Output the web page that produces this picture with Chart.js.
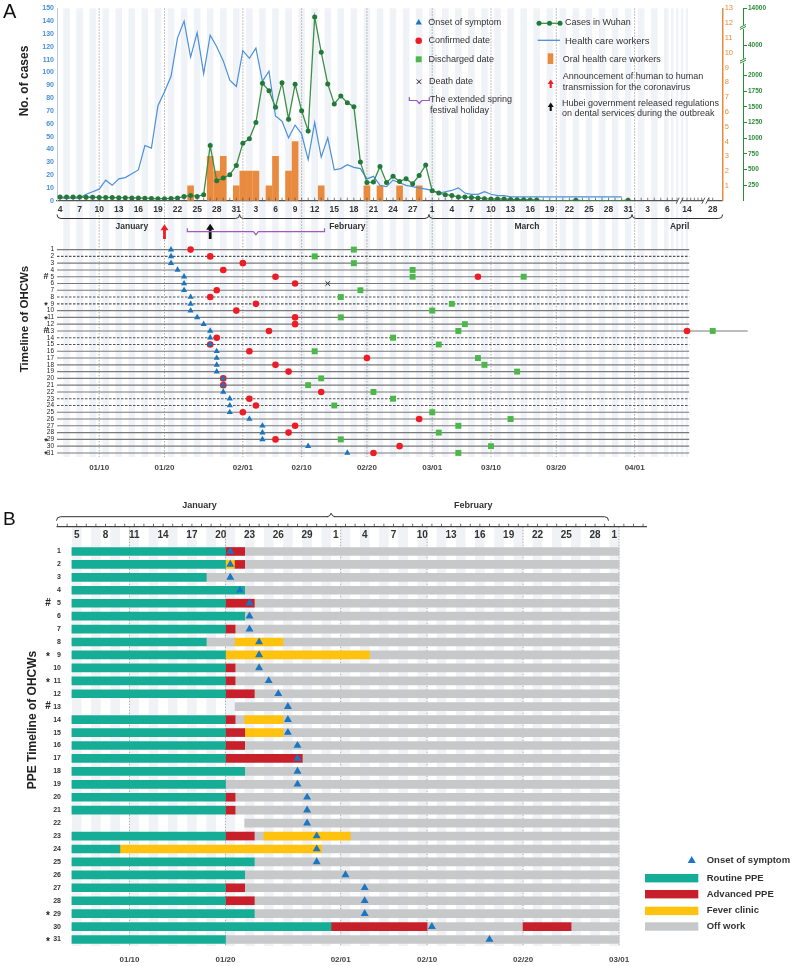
<!DOCTYPE html>
<html>
<head>
<meta charset="utf-8">
<title>Oral health care workers timeline</title>
<script src="https://cdn.jsdelivr.net/npm/chart.js@4.4.1/dist/chart.umd.min.js"></script>
<style>
  body { margin: 0; background: #fff; }
  #page { position: relative; width: 791px; height: 966px; overflow: hidden; }
  #page canvas { position: absolute; left: 0; }
</style>
</head>
<body>
<div id="page">
  <canvas id="casesChart" width="791" height="240" style="top:0"></canvas>
  <canvas id="timelineChart" width="791" height="240" style="top:240px"></canvas>
  <canvas id="ppeChart" width="791" height="486" style="top:480px"></canvas>
</div>
<script>
// ---------- data ----------
// daily series start on 4 January 2020 and run to 31 March
const firstDay = '1/4';
const healthWorkers = [
  2, 2, 2, 2, 5, 7, 9, 16, 12, 17, 18, 21, 24, 43, 41, 74, 85, 97, 127, 140, 112, 131, 99, 129, 120, 109, 94, 89,
  117, 111, 119, 93, 101, 66, 62, 49, 59, 52, 32, 61, 34, 49, 24, 25, 28, 26, 25, 17, 19, 12, 11, 16, 14, 12, 11, 10, 9,
  8, 6, 7, 8, 10, 6, 5, 5, 7, 5, 4, 4, 3, 3, 3, 3, 3, 3, 3, 3, 3, 3, 3, 3, 3, 3, 3, 3, 3, 3
];
const wuhanCases = [
  58, 58, 58, 58, 55, 55, 53, 53, 50, 48, 48, 45, 43, 40, 35, 32, 32, 37, 43, 69, 85, 69, 96, 882, 319, 362, 415, 563,
  920, 989, 1249, 1877, 1760, 1494, 1887, 1303, 1861, 1440, 1116, 11700, 3560, 1867, 1547, 1675, 1568, 1504, 617, 292, 298, 547, 292, 390, 308, 351, 271, 404, 569,
  160, 122, 96, 85, 58, 58, 53, 43, 32, 27, 27, 27, 21, 16, 16, 11, 11, 0, 0, 0, 0, 0, 8, 0, 0, 0, 0, 0, 0, 0, 8
];
const oralDates = ['1/24', '1/27', '1/28', '1/29', '1/31', '2/1', '2/2', '2/3', '2/5', '2/6', '2/8', '2/9', '2/13', '2/20', '2/22', '2/25', '2/28'];
const oralCounts = [1, 3, 2, 3, 1, 2, 2, 2, 1, 3, 2, 4, 1, 1, 1, 1, 1];
const wuhanTicks = [250, 500, 750, 1000, 1250, 1500, 1750, 2000, 4000, 14000];

// events marked under the date axis
const h2hDate = '1/20';
const dentalRuleDate = '1/27';
const holidayFrom = '1/24';
const holidayTo = '2/13';

// timeline of the 31 OHCWs (row = worker)
const onset = ['1/21', '1/21', '1/21', '1/22', '1/23', '1/23', '1/23', '1/24', '1/24', '1/24', '1/25', '1/26', '1/27', '1/27', '1/27', '1/28',
  '1/28', '1/28', '1/28', '1/29', '1/29', '1/29', '1/30', '1/30', '1/30', '2/2', '2/4', '2/4', '2/4', '2/11', '2/17'];
const confirmed = ['1/24', '1/27', '2/1', '1/29', '2/6', '2/9', '1/28', '1/27', '2/3', '1/31', '2/9', '2/9', '2/5', '1/28', '1/27', '2/2',
  '2/20', '2/6', '2/8', '1/29', '1/29', '2/13', '2/2', '2/3', '2/1', '2/28', '2/9', '2/8', '2/6', '2/25', '2/21'];
const discharged = ['2/18', '2/12', '2/18', '2/27', '2/27', null, '2/19', '2/16', '3/4', '3/1', '2/16', '3/6', '3/5', '2/24', '3/2', '2/12',
  '3/8', '3/9', '3/14', '2/13', '2/11', '2/21', '2/24', '2/15', '3/1', '3/13', '3/5', '3/2', '2/16', '3/10', '3/5'];
const reconfirmedRows = [5, 13];
const reconfirmedDates = ['3/8', '4/14'];
const redischargedRows = [5, 13];
const redischargedDates = ['3/15', '4/28'];
const deathRows = [6];
const deathDates = ['2/14'];
const dashedRows = [2, 8, 9, 14, 15, 23, 24];
const noteRows = [5, 9, 11, 13, 29, 31];
const noteMarks = ['#', '*', '*', '#', '*', '*'];
const timelineTickDates = ['1/10', '1/20', '2/1', '2/10', '2/20', '3/1', '3/10', '3/20', '4/1'];

// PPE per worker: R routine, A advanced, F fever clinic, O off work (inclusive date spans)
const ppe = [
  'R 1/5-1/20, A 1/21-1/22, O 1/23-3/1',
  'R 1/5-1/20, F 1/21-1/21, A 1/22-1/22, O 1/23-3/1',
  'R 1/5-1/18, O 1/19-3/1',
  'R 1/5-1/22, O 1/23-3/1',
  'R 1/5-1/20, A 1/21-1/23, O 1/24-3/1',
  'R 1/5-1/22, O 1/23-3/1',
  'R 1/5-1/20, A 1/21-1/21, O 1/22-3/1',
  'R 1/5-1/18, O 1/19-1/21, F 1/22-1/26, O 1/27-3/1',
  'R 1/5-1/20, F 1/21-2/4, O 2/5-3/1',
  'R 1/5-1/20, A 1/21-1/21, O 1/22-3/1',
  'R 1/5-1/20, A 1/21-1/21, O 1/22-3/1',
  'R 1/5-1/20, A 1/21-1/23, O 1/24-3/1',
  'O 1/22-3/1',
  'R 1/5-1/20, A 1/21-1/21, O 1/22-1/22, F 1/23-1/26, O 1/27-3/1',
  'R 1/5-1/20, A 1/21-1/22, F 1/23-1/26, O 1/27-3/1',
  'R 1/5-1/20, A 1/21-1/22, O 1/23-3/1',
  'R 1/5-1/20, A 1/21-1/28, O 1/29-3/1',
  'R 1/5-1/22, O 1/23-3/1',
  'R 1/5-1/20, O 1/21-3/1',
  'R 1/5-1/20, A 1/21-1/21, O 1/22-3/1',
  'R 1/5-1/20, A 1/21-1/21, O 1/22-3/1',
  'O 1/23-3/1',
  'R 1/5-1/20, A 1/21-1/23, O 1/24-1/24, F 1/25-2/2, O 2/3-3/1',
  'R 1/5-1/9, F 1/10-1/30, O 1/31-3/1',
  'R 1/5-1/23, O 1/24-3/1',
  'R 1/5-1/22, O 1/23-3/1',
  'R 1/5-1/20, A 1/21-1/22, O 1/23-3/1',
  'R 1/5-1/20, A 1/21-1/23, O 1/24-3/1',
  'R 1/5-1/23, O 1/24-3/1',
  'R 1/5-1/31, A 2/1-2/10, O 2/11-2/20, A 2/21-2/25, O 2/26-3/1',
  'R 1/5-1/20, O 1/21-3/1'
];
const ppeKinds = ['R', 'A', 'F', 'O'];
const ppeNames = ['Routine PPE', 'Advanced PPE', 'Fever clinic', 'Off work'];
const ppeTickDates = ['1/10', '1/20', '2/1', '2/10', '2/20', '3/1'];

// ---------- helpers ----------
const FONT = "'Liberation Sans', Arial, Helvetica, sans-serif";
const NARROW = "'Liberation Sans Narrow', 'Liberation Sans', Arial, sans-serif";
Chart.defaults.font.family = FONT;

function doy(s) {
  const [m, d] = s.split('/').map(Number);
  return Math.round((Date.UTC(2020, m - 1, d) - Date.UTC(2020, 0, 0)) / 864e5);
}
function dayOfMonth(v) { return new Date(2020, 0, v).getDate(); }
function mmdd(v) {
  const t = new Date(2020, 0, v);
  return String(t.getMonth() + 1).padStart(2, '0') + '/' + String(t.getDate()).padStart(2, '0');
}

// linear scale with a piecewise mapping (broken axis)
const LinearScale = Chart.LinearScale || Chart.registry.getScale('linear');
class BrokenScale extends LinearScale {
  getPixelForValue(value) {
    const b = this.options.breaks;
    let i = 1;
    while (i < b.length - 1 && value > b[i][0]) i++;
    const f = b[i - 1][1] + (value - b[i - 1][0]) / (b[i][0] - b[i - 1][0]) * (b[i][1] - b[i - 1][1]);
    return this.getPixelForDecimal(f);
  }
  getValueForPixel(pixel) {
    const b = this.options.breaks;
    const f = this.getDecimalForPixel(pixel);
    let i = 1;
    while (i < b.length - 1 && f > b[i][1]) i++;
    return b[i - 1][0] + (f - b[i - 1][1]) / (b[i][1] - b[i - 1][1]) * (b[i][0] - b[i - 1][0]);
  }
}
BrokenScale.id = 'broken';
BrokenScale.defaults = {};
Chart.register(BrokenScale);

// date axis of panel A: linear to 6 April, compressed after
const xBreaks = [[3.54, 0], [97, 0.9168], [105, 0.9464], [119, 0.985], [124.4, 1]];

function stripes(ctx, scale, top, bottom, first, last, color) {
  ctx.fillStyle = color;
  for (let d = first; d <= last; d += 2) {
    const x0 = scale.getPixelForValue(d - 0.5), x1 = scale.getPixelForValue(d + 0.5);
    ctx.fillRect(x0, top, x1 - x0, bottom - top);
  }
}
function dottedLines(ctx, xs, top, bottom) {
  ctx.save();
  ctx.strokeStyle = '#9a9a9a';
  ctx.lineWidth = 0.8;
  ctx.setLineDash([1.5, 1.5]);
  xs.forEach(x => { ctx.beginPath(); ctx.moveTo(x, top); ctx.lineTo(x, bottom); ctx.stroke(); });
  ctx.restore();
}
function symbol(ctx, style, x, y, r, fill, stroke) {
  ctx.fillStyle = fill;
  ctx.strokeStyle = stroke || fill;
  ctx.lineWidth = 1;
  Chart.helpers.drawPoint(ctx, {pointStyle: style, radius: r, rotation: 0, borderWidth: stroke ? 1 : 0}, x, y);
}
function text(ctx, s, x, y, font, color, align) {
  ctx.font = font;
  ctx.fillStyle = color || '#333';
  ctx.textAlign = align || 'left';
  ctx.textBaseline = 'middle';
  ctx.fillText(s, x, y);
}
function vText(ctx, s, x, y, font) {
  ctx.save();
  ctx.translate(x, y);
  ctx.rotate(-Math.PI / 2);
  text(ctx, s, 0, 0, font, '#222', 'center');
  ctx.restore();
}
function upArrow(ctx, x, tip, tail, half, color) {
  ctx.fillStyle = color;
  ctx.strokeStyle = color;
  ctx.lineWidth = half * 0.7;
  ctx.beginPath(); ctx.moveTo(x, tail); ctx.lineTo(x, tip + half); ctx.stroke();
  ctx.beginPath(); ctx.moveTo(x, tip); ctx.lineTo(x - half, tip + half * 1.5); ctx.lineTo(x + half, tip + half * 1.5); ctx.closePath(); ctx.fill();
}
function holidayBracket(ctx, x0, x1, y) {
  const xm = (x0 + x1) / 2;
  ctx.strokeStyle = '#a057c2';
  ctx.lineWidth = 1.2;
  ctx.beginPath();
  ctx.moveTo(x0, y - 3.5); ctx.lineTo(x0, y); ctx.lineTo(xm - 2.5, y); ctx.lineTo(xm, y + 3);
  ctx.lineTo(xm + 2.5, y); ctx.lineTo(x1, y); ctx.lineTo(x1, y - 3.5);
  ctx.stroke();
}
// brace line; dir -1 hooks up, +1 hooks down; hooks can be switched off per end
function brace(ctx, xa, xb, y, dir, hookA = true, hookB = true) {
  ctx.beginPath();
  if (hookA) { ctx.moveTo(xa, y + 4 * dir); ctx.quadraticCurveTo(xa, y, xa + 4, y); } else ctx.moveTo(xa, y);
  if (hookB) { ctx.lineTo(xb - 4, y); ctx.quadraticCurveTo(xb, y, xb, y + 4 * dir); } else ctx.lineTo(xb, y);
  ctx.stroke();
}
function breakMark(ctx, x, y, vertical, color) {
  ctx.fillStyle = '#fff';
  if (vertical) ctx.fillRect(x - 3, y - 2, 6, 4); else ctx.fillRect(x - 2, y - 3, 4, 6);
  ctx.strokeStyle = color;
  ctx.lineWidth = 1;
  ctx.beginPath();
  if (vertical) {
    ctx.moveTo(x - 3, y + 0.5); ctx.lineTo(x + 3, y - 2.5);
    ctx.moveTo(x - 3, y + 2.5); ctx.lineTo(x + 3, y - 0.5);
  } else {
    ctx.moveTo(x - 3.5, y + 3); ctx.lineTo(x - 0.5, y - 3);
    ctx.moveTo(x + 0.5, y + 3); ctx.lineTo(x + 3.5, y - 3);
  }
  ctx.stroke();
}

const startDay = doy(firstDay);
const caseTickDays = [];
for (let d = 4; d <= 97; d++) caseTickDays.push(d);
caseTickDays.push(doy('4/14'), doy('4/28'));

// ---------- panel A: cases ----------
const casesDecor = {
  id: 'casesDecor',
  beforeDraw(chart) {
    const {ctx, chartArea: a, scales: {x}} = chart;
    ctx.save();
    stripes(ctx, x, a.top, chart.height, 5, 105, '#eff2f6');
    dottedLines(ctx, timelineTickDates.map(d => x.getPixelForValue(doy(d))), a.top, chart.height);
    ctx.restore();
  },
  afterDraw(chart) {
    const {ctx, chartArea: a, scales: {x, yG}} = chart;
    const px = v => x.getPixelForValue(v);
    ctx.save();
    // day ticks on the date axis
    ctx.strokeStyle = '#555';
    ctx.lineWidth = 0.8;
    ctx.beginPath();
    caseTickDays.concat([99, 101, 103, 107, 109, 111, 113, 117]).forEach(d => {
      ctx.moveTo(px(d), a.bottom); ctx.lineTo(px(d), a.bottom - 3);
    });
    ctx.stroke();
    breakMark(ctx, px(102), a.bottom, false, '#555');
    breakMark(ctx, px(115), a.bottom, false, '#555');
    breakMark(ctx, yG.left, yG.getPixelForValue(3000), true, '#2e8b3a');
    breakMark(ctx, yG.left, yG.getPixelForValue(9000), true, '#2e8b3a');

    // month braces
    const by = a.bottom + 17.8;
    ctx.strokeStyle = '#333';
    ctx.lineWidth = 1;
    const edges = [a.left, px(31.5), px(60.5), px(91.6), a.right];
    for (let i = 0; i < 4; i++) brace(ctx, edges[i], edges[i + 1], by, -1);
    const months = ['January', 'February', 'March', 'April'];
    [15, 48, 75.5, 102].forEach((d, i) => text(ctx, months[i], px(d), a.bottom + 25.5, `bold 8.5px ${FONT}`, '#333', 'center'));

    // events
    upArrow(ctx, px(doy(h2hDate)), a.bottom + 23.5, 239, 4, '#ee1c25');
    upArrow(ctx, px(doy(dentalRuleDate)), a.bottom + 23, 239, 4, '#111');
    holidayBracket(ctx, px(doy(holidayFrom) - 0.5), px(doy(holidayTo) + 0.5), a.bottom + 31);

    // legend
    const f9 = `9px ${FONT}`;
    symbol(ctx, 'triangle', 418.7, 22.7, 3.6, '#1b75bc');
    text(ctx, 'Onset of symptom', 428.3, 22.7, f9);
    symbol(ctx, 'circle', 418.7, 40.7, 3.3, '#ee1c25');
    text(ctx, 'Confirmed date', 428.5, 40.7, f9);
    symbol(ctx, 'rect', 418.7, 59.3, 4.2, '#4cb849');
    text(ctx, 'Discharged date', 428.5, 59.3, f9);
    symbol(ctx, 'crossRot', 419, 81.7, 3.2, '#222', '#222');
    text(ctx, 'Death date', 429, 81.7, f9);
    holidayBracket(ctx, 409.3, 429.3, 100.5);
    text(ctx, 'The extended spring', 430, 100, f9);
    text(ctx, 'festival holiday', 430, 110.7, f9);

    ctx.strokeStyle = '#3d8f47'; ctx.lineWidth = 1.3;
    ctx.beginPath(); ctx.moveTo(537.7, 23.3); ctx.lineTo(561.7, 23.3); ctx.stroke();
    [539, 549.5, 560].forEach(cx => symbol(ctx, 'circle', cx, 23.3, 2.5, '#23793a'));
    text(ctx, 'Cases in Wuhan', 565, 22.7, f9);
    ctx.strokeStyle = '#4a90dc'; ctx.lineWidth = 1.3;
    ctx.beginPath(); ctx.moveTo(537.7, 40.3); ctx.lineTo(560, 40.3); ctx.stroke();
    text(ctx, 'Health care workers', 565, 41.5, `9.5px ${FONT}`);
    ctx.fillStyle = '#e98b3f'; ctx.fillRect(547.7, 53.3, 5.6, 10.7);
    text(ctx, 'Oral health care workers', 562.7, 59.3, f9);
    upArrow(ctx, 550.7, 79.5, 88, 3, '#ee1c25');
    text(ctx, 'Announcement of human to human', 562.7, 76.7, f9);
    text(ctx, 'transmission for the coronavirus', 562.7, 87.3, f9);
    upArrow(ctx, 550.7, 102.5, 111, 3, '#111');
    text(ctx, 'Hubei government released regulations', 562, 103.3, f9);
    text(ctx, 'on dental services during the outbreak', 562, 114, f9);

    text(ctx, 'A', 3, 12.5, `20px ${FONT}`, '#111');
    vText(ctx, 'No. of cases', 25, 81, `bold 12px ${FONT}`);
    ctx.restore();
  }
};

new Chart(document.getElementById('casesChart'), {
  type: 'line',
  data: {
    datasets: [
      {
        type: 'line', label: 'Cases in Wuhan', yAxisID: 'yG',
        data: wuhanCases.map((v, i) => ({x: startDay + i, y: v})),
        borderColor: '#3d8f47', borderWidth: 1.3, tension: 0,
        pointRadius: c => (c.raw && c.raw.y > 0 ? 2.5 : 0),
        pointBackgroundColor: '#23793a', pointBorderWidth: 0, order: 0
      },
      {
        type: 'line', label: 'Health care workers', yAxisID: 'y',
        data: healthWorkers.map((v, i) => ({x: startDay + i, y: v})),
        borderColor: '#4a90dc', borderWidth: 1.2, tension: 0, pointRadius: 0, order: 1
      },
      {
        type: 'bar', label: 'Oral health care workers', yAxisID: 'yO',
        data: oralDates.map((d, i) => ({x: doy(d), y: oralCounts[i]})),
        backgroundColor: '#e98b3f', barThickness: 6, order: 2
      }
    ]
  },
  options: {
    responsive: false, animation: false, events: [],
    layout: {padding: {top: 8.3, right: 0, bottom: 0, left: 0}},
    plugins: {legend: {display: false}, tooltip: {enabled: false}},
    scales: {
      x: {
        type: 'broken', min: xBreaks[0][0], max: xBreaks[xBreaks.length - 1][0], breaks: xBreaks,
        offset: false,
        afterBuildTicks: s => { s.ticks = caseTickDays.map(v => ({value: v})); },
        ticks: {
          autoSkip: false, maxRotation: 0, padding: 4, color: '#333',
          font: {size: 8.5, weight: 'bold'},
          callback: v => ((v <= 97 && (v - 4) % 3 === 0) || v > 97 ? String(dayOfMonth(v)) : '')
        },
        grid: {display: false, drawTicks: false, offset: false},
        border: {color: '#555', width: 1.3},
        afterFit: s => { s.height = 39.3; }
      },
      y: {
        type: 'linear', position: 'left', min: 0, max: 150,
        ticks: {stepSize: 10, color: '#4a8fd8', font: {size: 7, weight: 'bold'}, padding: 3},
        grid: {display: false, drawTicks: false},
        border: {color: '#b3c9e6', width: 1},
        afterFit: s => { s.width = 57; }
      },
      yO: {
        type: 'linear', position: 'right', min: 0, max: 13,
        ticks: {stepSize: 1, color: '#e98b3f', font: {size: 7.5}, padding: 2, callback: v => (v === 0 ? '' : String(v))},
        grid: {display: false, drawTicks: false},
        border: {color: '#e98b3f', width: 1.5},
        afterFit: s => { s.width = 20.3; }
      },
      yG: {
        type: 'broken', position: 'right', min: 0, max: 14000,
        breaks: [[0, 0], [2000, 0.65], [4000, 0.806], [14000, 1]],
        afterBuildTicks: s => { s.ticks = wuhanTicks.map(v => ({value: v})); },
        ticks: {color: '#2e8b3a', font: {size: 6.5, weight: 'bold'}, padding: 1, callback: v => String(v)},
        grid: {display: true, drawOnChartArea: false, drawTicks: true, tickLength: 4, color: '#2e8b3a'},
        border: {color: '#2e8b3a', width: 1},
        afterFit: s => { s.width = 48; }
      }
    }
  },
  plugins: [casesDecor]
});

// ---------- panel A: timeline ----------
const rowPoints = (dates, rows) => dates
  .map((d, i) => (d ? {x: doy(d), y: rows ? rows[i] : i + 1} : null))
  .filter(Boolean);

const timelineDecor = {
  id: 'timelineDecor',
  beforeDraw(chart) {
    const {ctx, chartArea: a, scales: {x}} = chart;
    ctx.save();
    stripes(ctx, x, 0, a.bottom, 5, 105, '#eff2f6');
    dottedLines(ctx, timelineTickDates.map(d => x.getPixelForValue(doy(d))), 0, a.bottom);
    ctx.restore();
  },
  beforeDatasetsDraw(chart) {
    const {ctx, chartArea: a, scales: {x, y}} = chart;
    ctx.save();
    ctx.lineWidth = 1.1;
    for (let r = 1; r <= onset.length; r++) {
      const py = y.getPixelForValue(r);
      const x1 = r === 13 ? a.right + 25 : x.getPixelForValue(106.2);
      ctx.strokeStyle = dashedRows.includes(r) ? '#555' : '#7a7a7a';
      ctx.setLineDash(dashedRows.includes(r) ? [2.5, 1.5] : []);
      ctx.beginPath(); ctx.moveTo(a.left, py); ctx.lineTo(x1, py); ctx.stroke();
    }
    ctx.restore();
  },
  afterDraw(chart) {
    const {ctx, chartArea: a, scales: {y}} = chart;
    ctx.save();
    noteRows.forEach((r, i) => text(ctx, noteMarks[i], a.left - 11, y.getPixelForValue(r) + (noteMarks[i] === '*' ? 2 : 0), `bold 9px ${FONT}`, '#222', 'center'));
    vText(ctx, 'Timeline of OHCWs', 25, 79, `bold 11.5px ${FONT}`);
    ctx.restore();
  }
};

new Chart(document.getElementById('timelineChart'), {
  type: 'scatter',
  data: {
    datasets: [
      {label: 'Onset of symptom', data: rowPoints(onset), pointStyle: 'triangle', pointRadius: 3.6,
        backgroundColor: '#1b75bc', borderWidth: 0, clip: false, order: 0},
      {label: 'Confirmed date', data: rowPoints(confirmed).concat(rowPoints(reconfirmedDates, reconfirmedRows)),
        pointStyle: 'circle', pointRadius: 3.3, backgroundColor: '#ee1c25', borderWidth: 0, clip: false, order: 1},
      {label: 'Discharged date', data: rowPoints(discharged).concat(rowPoints(redischargedDates, redischargedRows)),
        pointStyle: 'rect', pointRadius: 4.2, backgroundColor: '#4cb849', borderWidth: 0, clip: false, order: 2},
      {label: 'Death date', data: rowPoints(deathDates, deathRows), pointStyle: 'crossRot', pointRadius: 3.2,
        borderColor: '#222', borderWidth: 1, clip: false, order: 3}
    ]
  },
  options: {
    responsive: false, animation: false, events: [],
    layout: {padding: {top: 0, right: 68.3, bottom: 0, left: 0}},
    plugins: {legend: {display: false}, tooltip: {enabled: false}},
    scales: {
      x: {
        type: 'broken', min: xBreaks[0][0], max: xBreaks[xBreaks.length - 1][0], breaks: xBreaks,
        afterBuildTicks: s => { s.ticks = timelineTickDates.map(d => ({value: doy(d)})); },
        ticks: {autoSkip: false, maxRotation: 0, padding: 6, color: '#444', font: {size: 8, weight: 'bold'}, callback: v => mmdd(v)},
        grid: {display: false, drawTicks: false},
        border: {display: false},
        afterFit: s => { s.height = 23; }
      },
      y: {
        type: 'linear', reverse: true, min: 0.6, max: 31.6,
        afterBuildTicks: s => { s.ticks = onset.map((_, i) => ({value: i + 1})); },
        ticks: {autoSkip: false, color: '#222', font: {size: 6.5}, padding: 3},
        grid: {display: false, drawTicks: false},
        border: {display: false},
        afterFit: s => { s.width = 57; }
      }
    }
  },
  plugins: [timelineDecor]
});

// ---------- panel B: PPE ----------
const ppeColors = ['#16ad97', '#c7202b', '#fec20f', '#c7c8ca'];
const ppeSegments = ppe.map(row => row.split(',').map(part => {
  const [kind, span] = part.trim().split(' ');
  const [from, to] = span.split('-');
  return {kind, from: doy(from) - 0.5, to: doy(to) + 0.5};
}));
const rowLabels = ppe.map((_, i) => String(i + 1));
const ppeTopDays = [];
for (let d = 5; d <= 59; d += 3) ppeTopDays.push(d);
ppeTopDays.push(doy('3/1'));

const ppeDecor = {
  id: 'ppeDecor',
  beforeDraw(chart) {
    const {ctx, chartArea: a, scales: {x}} = chart;
    const axisY = a.top - 18.3;
    ctx.save();
    stripes(ctx, x, axisY, a.bottom, 5, 61, '#f0f2f5');
    dottedLines(ctx, ppeTickDates.map(d => x.getPixelForValue(doy(d) + 0.5)), axisY, a.bottom);
    ctx.restore();
  },
  afterDraw(chart) {
    const {ctx, chartArea: a, scales: {x, y}} = chart;
    const px = v => x.getPixelForValue(v);
    const axisY = a.top - 18.3;
    ctx.save();
    ctx.strokeStyle = '#444';
    ctx.lineWidth = 1.2;
    ctx.beginPath(); ctx.moveTo(px(2.9), axisY); ctx.lineTo(a.right, axisY); ctx.stroke();
    ctx.lineWidth = 0.8;
    ctx.beginPath();
    for (let d = 3; d <= 64; d++) { ctx.moveTo(px(d), axisY); ctx.lineTo(px(d), axisY - 3); }
    ctx.stroke();

    ctx.strokeStyle = '#333';
    ctx.lineWidth = 1;
    const bY = axisY - 10;
    const mid = px(31.5);
    brace(ctx, px(2.9), mid, bY, 1, true, false);
    brace(ctx, mid, px(60.4), bY, 1, false, true);
    ctx.fillStyle = '#fff';
    ctx.fillRect(mid - 3, bY - 1, 6, 2);
    ctx.beginPath(); ctx.moveTo(mid - 4, bY); ctx.quadraticCurveTo(mid - 1, bY, mid, bY - 3.5); ctx.quadraticCurveTo(mid + 1, bY, mid + 4, bY); ctx.stroke();
    text(ctx, 'January', px(17.8), axisY - 21, `bold 9px ${FONT}`, '#333', 'center');
    text(ctx, 'February', px(46.3), axisY - 21, `bold 9px ${FONT}`, '#333', 'center');

    noteRows.forEach((r, i) => text(ctx, noteMarks[i], 48, y.getPixelForValue(r - 1) + (noteMarks[i] === '*' ? 2.5 : 0), `bold 10px ${FONT}`, '#222', 'center'));
    vText(ctx, 'PPE Timeline of OHCWs', 32.5, 240, `bold 12px ${FONT}`);
    text(ctx, 'B', 3, 40, `19px ${FONT}`, '#111');

    // legend
    const f = `bold 9.5px ${FONT}`;
    symbol(ctx, 'triangle', 691.7, 380.7, 4.6, '#1a75c2');
    text(ctx, 'Onset of symptom', 706.7, 380.7, f);
    [394, 410, 426.7, 442.3].forEach((ty, i) => {
      ctx.fillStyle = ppeColors[i];
      ctx.fillRect(645, ty, 53.3, 8.4);
      text(ctx, ppeNames[i], 706.7, ty + 4, f);
    });
    ctx.restore();
  }
};

new Chart(document.getElementById('ppeChart'), {
  type: 'bar',
  data: {
    labels: rowLabels,
    datasets: [
      {type: 'scatter', label: 'Onset of symptom', data: onset.map((d, i) => ({x: doy(d), y: rowLabels[i]})),
        pointStyle: 'triangle', pointRadius: 4.6, backgroundColor: '#1a75c2', borderWidth: 0, clip: false, order: 0}
    ].concat(ppeKinds.map((k, j) => ({
      type: 'bar', label: ppeNames[j],
      data: ppeSegments.flatMap((segs, i) => segs.filter(s => s.kind === k).map(s => ({x: [s.from, s.to], y: rowLabels[i]}))),
      backgroundColor: ppeColors[j], barThickness: 8, grouped: false, order: 1
    })))
  },
  options: {
    indexAxis: 'y',
    responsive: false, animation: false, events: [],
    layout: {padding: {top: 0, right: 144, bottom: 0, left: 0}},
    plugins: {legend: {display: false}, tooltip: {enabled: false}},
    scales: {
      x: {
        type: 'linear', position: 'bottom', min: 3.885, max: 64.41,
        afterBuildTicks: s => { s.ticks = ppeTickDates.map(d => ({value: doy(d) + 0.5})); },
        ticks: {autoSkip: false, maxRotation: 0, padding: 9, color: '#444', font: {size: 8, weight: 'bold'}, callback: v => mmdd(v - 0.5)},
        grid: {display: false, drawTicks: false},
        border: {display: false},
        afterFit: s => { s.height = 20; }
      },
      x2: {
        type: 'linear', position: 'top', min: 3.885, max: 64.41,
        afterBuildTicks: s => { s.ticks = ppeTopDays.map(v => ({value: v})); },
        ticks: {autoSkip: false, maxRotation: 0, padding: 4, color: '#333', font: {size: 10, weight: 'bold', family: NARROW}, callback: v => String(dayOfMonth(v))},
        grid: {display: false, drawTicks: false},
        border: {display: false},
        afterFit: s => { s.height = 65; }
      },
      y: {
        type: 'category', offset: true,
        ticks: {color: '#333', font: {size: 7, weight: 'bold'}, padding: 5},
        grid: {display: false, drawTicks: false},
        border: {display: false},
        afterFit: s => { s.width = 66; }
      }
    }
  },
  plugins: [ppeDecor]
});
</script>
</body>
</html>
